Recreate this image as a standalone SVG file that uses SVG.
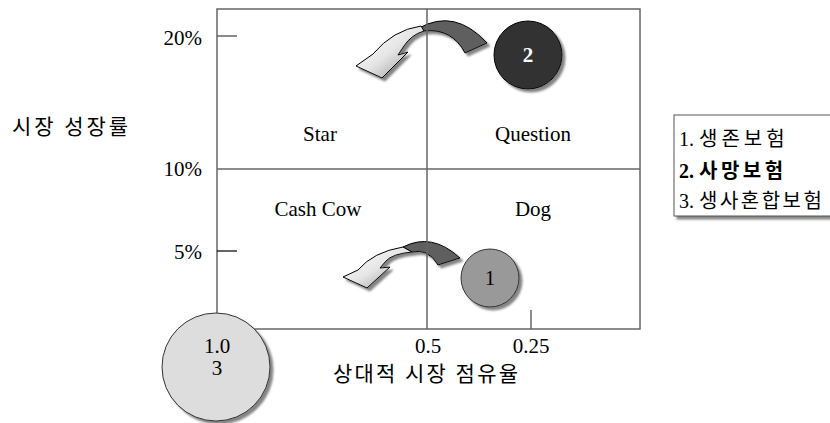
<svg xmlns="http://www.w3.org/2000/svg" width="830" height="423" viewBox="0 0 830 423">
<style>
.t{font-family:"Liberation Serif","Times New Roman",serif;font-size:21px;fill:#000}
.k{font-family:"Liberation Serif","Noto Sans CJK KR",serif;fill:#000}
.ln{stroke:#666;stroke-width:1.5;fill:none}
.arw{stroke:#000;stroke-width:1}
.lg{font-family:"Liberation Serif","Noto Sans CJK KR",serif;font-size:20px;fill:#000}
</style>
<defs>
<filter id="sh" x="-20%" y="-20%" width="150%" height="150%">
<feDropShadow dx="3" dy="3" stdDeviation="1" flood-color="#777" flood-opacity="0.9"/>
</filter>
<linearGradient id="wg" x1="0" y1="0" x2="1" y2="1">
<stop offset="0" stop-color="#ffffff"/>
<stop offset="0.5" stop-color="#e6e6e6"/>
<stop offset="1" stop-color="#8a8a8a"/>
</linearGradient>
</defs>
<rect width="830" height="423" fill="#fff"/>

<g id="connectors">
<g filter="url(#sh)">
<path class="arw" fill="#5e5e5e" d="M419,28 Q455,8 487,43 L465,53 Q452,28 424,31 Z"/>
<path class="arw" fill="url(#wg)" d="M421,26 Q393,30 373,54 L356,66 L382,78 L408,52 L398,55 L404,46 Q411,35 424,31 Z"/>
</g>
<g filter="url(#sh)">
<path class="arw" fill="#5e5e5e" d="M403,247 Q432,232 460,258 L438,265 Q428,248 412,252 Z"/>
<path class="arw" fill="url(#wg)" d="M403,247 Q373,252 358,270 L343,277 L367,288 L390,267 L380,268 L386,261 Q392,254 412,252 Z"/>
</g>
</g>

<g id="grid">
<rect class="ln" x="217" y="9" width="423" height="320"/>
<line class="ln" x1="427" y1="9" x2="427" y2="329"/>
<line class="ln" x1="217" y1="169" x2="640" y2="169"/>
<line class="ln" x1="217" y1="36" x2="237" y2="36"/>
<line x1="217" y1="251" x2="237" y2="251" stroke="#000" stroke-width="1.2"/>
<line class="ln" x1="531" y1="310" x2="531" y2="329"/>
</g>

<g id="axis-labels">
<text class="t" x="202" y="45" text-anchor="end">20%</text>
<text class="t" x="202" y="176" text-anchor="end">10%</text>
<text class="t" x="202" y="259" text-anchor="end">5%</text>
<text class="t" x="428" y="353" text-anchor="middle">0.5</text>
<text class="t" x="531" y="353" text-anchor="middle">0.25</text>
<text class="k" x="12" y="134" font-size="21" textLength="116" lengthAdjust="spacing">시장 성장률</text>
<text class="k" x="333" y="381" font-size="21" textLength="185" lengthAdjust="spacing">상대적 시장 점유율</text>
</g>

<g id="quadrant-star"><text class="t" x="320" y="141" text-anchor="middle" font-size="22">Star</text></g>
<g id="quadrant-question"><text class="t" x="533" y="141" text-anchor="middle" font-size="22">Question</text></g>
<g id="quadrant-cashcow"><text class="t" x="318" y="216" text-anchor="middle" font-size="22">Cash Cow</text></g>
<g id="quadrant-dog"><text class="t" x="533" y="216" text-anchor="middle" font-size="22">Dog</text></g>

<g id="node-2">
<circle cx="528" cy="55" r="34" fill="#333" stroke="#000" stroke-width="1" filter="url(#sh)"/>
<text class="t" x="528" y="62" text-anchor="middle" font-size="20" font-weight="bold" style="fill:#fff">2</text>
</g>
<g id="node-1">
<circle cx="490" cy="278" r="29" fill="#999" stroke="#333" stroke-width="1" filter="url(#sh)"/>
<text class="t" x="490" y="285" text-anchor="middle" font-size="20">1</text>
</g>
<g id="node-3">
<circle cx="216" cy="367" r="54" fill="#ddd" stroke="#333" stroke-width="1" filter="url(#sh)"/>
<text class="t" x="217" y="353" text-anchor="middle" font-size="20">1.0</text>
<text class="t" x="217" y="375" text-anchor="middle" font-size="20">3</text>
</g>

<g id="legend">
<rect x="674" y="115" width="170" height="101" fill="#fff" stroke="#555" stroke-width="1" filter="url(#sh)"/>
<text class="lg" x="679" y="146">1. <tspan letter-spacing="4">생존보험</tspan></text>
<text class="lg" x="679" y="178" font-weight="bold">2. <tspan letter-spacing="3.5">사망보험</tspan></text>
<text class="lg" x="679" y="208">3. <tspan letter-spacing="2.5">생사혼합보험</tspan></text>
</g>
</svg>
